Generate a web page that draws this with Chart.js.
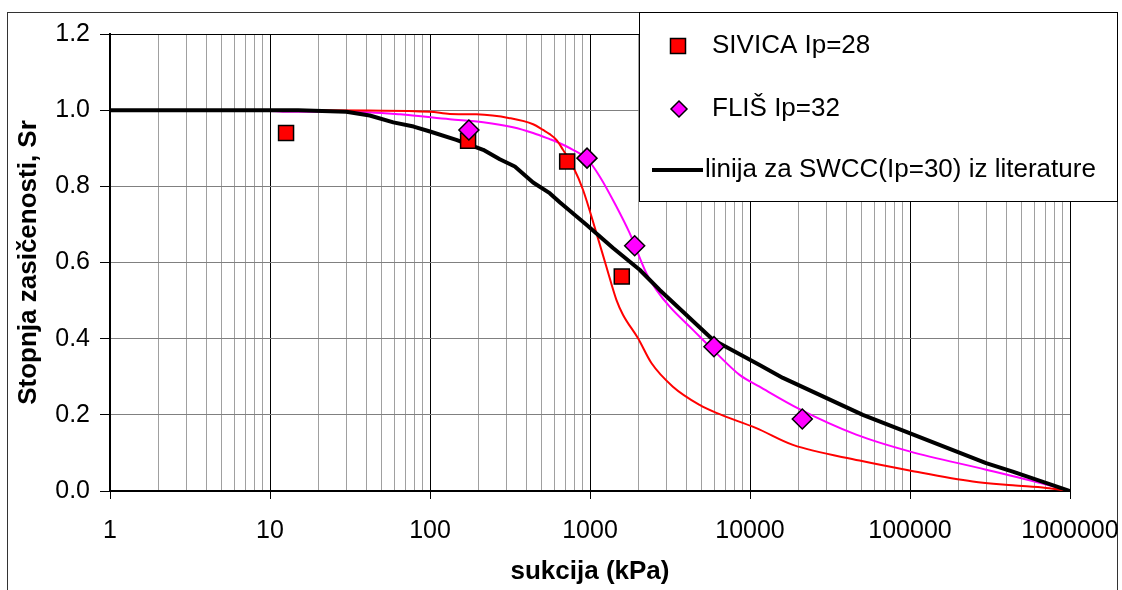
<!DOCTYPE html>
<html><head><meta charset="utf-8">
<script src="https://cdn.jsdelivr.net/npm/chart.js@4"></script>
<style>html,body{margin:0;padding:0;background:#fff;}#wrap{width:1122px;height:590px;position:relative;}</style>
</head><body><div id="wrap"><canvas id="c" width="1122" height="590"></canvas></div>
<script>
// ---- tick labels ----
const xTickLabels = ['1','10','100','1000','10000','100000','1000000'];
const yTickLabels = ['0.0','0.2','0.4','0.6','0.8','1.0','1.2'];

// ---- measured points ----
const sivicaLabel = 'SIVICA Ip=28';
const sivicaX = [12.6, 173, 720, 1580];
const sivicaY = [0.94, 0.92, 0.865, 0.563];

const flisLabel = 'FLIŠ Ip=32';
const flisX = [175, 958, 1902, 5953, 21220];
const flisY = [0.948, 0.874, 0.644, 0.379, 0.189];

// ---- literature SWCC line ----
const litLabel = 'linija za SWCC(Ip=30) iz literature';
const litX = [1, 15, 30, 42, 59, 79, 100, 146, 215, 273, 339, 441, 560, 647, 950, 1393, 2043, 2725, 5865, 11480, 16060, 50700, 99300, 299000, 438700, 1000000];
const litY = [1.0, 1.0, 0.996, 0.986, 0.968, 0.957, 0.944, 0.922, 0.896, 0.871, 0.852, 0.81, 0.782, 0.758, 0.699, 0.638, 0.581, 0.528, 0.397, 0.331, 0.297, 0.200, 0.152, 0.073, 0.051, 0.0];

// ---- fitted curves ----
const sivicaFitX = [1, 20, 100, 133, 195, 315, 441, 509, 560, 617, 678, 783, 904, 1097, 1266, 1462, 1607, 1996, 2420, 3297, 4843, 6160, 10950, 18540, 48390, 99300, 246700, 438700, 709000, 1000000];
const sivicaFitY = [1.0, 1.0, 0.996, 0.990, 0.989, 0.979, 0.963, 0.948, 0.937, 0.922, 0.896, 0.852, 0.791, 0.677, 0.589, 0.502, 0.463, 0.401, 0.336, 0.274, 0.226, 0.205, 0.165, 0.121, 0.080, 0.054, 0.025, 0.015, 0.008, 0.0];

const flisFitX = [1, 10, 12, 32, 65, 133, 215, 330, 441, 560, 617, 783, 950, 1150, 1462, 1770, 2250, 2600, 3148, 4400, 6160, 8610, 11480, 20400, 46100, 99300, 299000, 709000, 1000000];
const flisFitY = [0.998, 0.998, 0.996, 0.996, 0.989, 0.976, 0.968, 0.955, 0.940, 0.924, 0.917, 0.896, 0.874, 0.826, 0.747, 0.677, 0.572, 0.528, 0.484, 0.423, 0.362, 0.305, 0.274, 0.215, 0.148, 0.104, 0.056, 0.017, 0.0];

const pts = (xs, ys) => xs.map((x, i) => ({x: x, y: ys[i]}));
const FONT = '"Liberation Sans", Arial, sans-serif';

const framePlugin = {
  id: 'frame',
  beforeDraw(chart) {
    const ctx = chart.ctx;
    ctx.save();
    ctx.fillStyle = '#fff';
    ctx.fillRect(0, 0, chart.width, chart.height);
    ctx.strokeStyle = '#333';
    ctx.lineWidth = 1;
    ctx.strokeRect(7.5, 12.5, 1110, 640);
    ctx.restore();
  }
};

const legendPlugin = {
  id: 'boxLegend',
  afterDraw(chart) {
    const ctx = chart.ctx;
    ctx.save();
    ctx.fillStyle = '#fff';
    ctx.strokeStyle = '#000';
    ctx.lineWidth = 1;
    ctx.fillRect(639.5, 12.5, 478, 189);
    ctx.strokeRect(639.5, 12.5, 478, 189);
    const ds = chart.data.datasets;
    const items = [ds[1], ds[0], ds[2]];
    const rows = [46, 109, 170];
    items.forEach((d, i) => {
      const y = rows[i];
      if (d.showLine) {
        ctx.strokeStyle = d.borderColor;
        ctx.lineWidth = d.borderWidth;
        ctx.beginPath(); ctx.moveTo(652, y); ctx.lineTo(703, y); ctx.stroke();
      } else {
        ctx.fillStyle = d.pointBackgroundColor;
        ctx.strokeStyle = d.pointBorderColor;
        ctx.lineWidth = d.pointBorderWidth;
        ctx.beginPath();
        if (d.pointStyle === 'rect') {
          ctx.rect(678 - 7.5, y - 7.5, 15, 15);
        } else {
          ctx.moveTo(679, y - 8); ctx.lineTo(687, y); ctx.lineTo(679, y + 8); ctx.lineTo(671, y); ctx.closePath();
        }
        ctx.fill(); ctx.stroke();
      }
      ctx.fillStyle = '#000';
      ctx.font = '26px ' + FONT;
      ctx.textBaseline = 'middle';
      ctx.textAlign = 'left';
      ctx.fillText(d.label, d.showLine ? 705 : 712, y);
    });
    ctx.restore();
  }
};

new Chart(document.getElementById('c'), {
  type: 'scatter',
  data: {
    datasets: [
      { label: flisLabel, data: pts(flisX, flisY), showLine: false, pointStyle: 'rectRot', pointRadius: 10, pointHoverRadius: 10,
        pointBackgroundColor: '#ff00ff', pointBorderColor: '#000', pointBorderWidth: 1.5 },
      { label: sivicaLabel, data: pts(sivicaX, sivicaY), showLine: false, pointStyle: 'rect', pointRadius: 10.6, pointHoverRadius: 10.6,
        pointBackgroundColor: '#ff0000', pointBorderColor: '#000', pointBorderWidth: 1.5 },
      { label: litLabel, data: pts(litX, litY), showLine: true, borderColor: '#000', borderWidth: 4, pointRadius: 0,
        tension: 0, borderJoinStyle: 'round', borderCapStyle: 'butt' },
      { label: 'SIVICA fit', data: pts(sivicaFitX, sivicaFitY), showLine: true, borderColor: '#ff0000', borderWidth: 2, pointRadius: 0,
        cubicInterpolationMode: 'monotone' },
      { label: 'FLIŠ fit', data: pts(flisFitX, flisFitY), showLine: true, borderColor: '#ff00ff', borderWidth: 2, pointRadius: 0,
        cubicInterpolationMode: 'monotone' }
    ]
  },
  options: {
    responsive: false,
    animation: false,
    devicePixelRatio: 1,
    layout: { padding: { left: 0, top: 34, right: 52, bottom: 0 } },
    plugins: { legend: { display: false }, tooltip: { enabled: false } },
    scales: {
      x: {
        type: 'logarithmic',
        min: 1, max: 1000000,
        afterBuildTicks(scale) {
          const t = [];
          for (let e = 0; e < 6; e++) for (let m = 1; m < 10; m++) t.push({ value: m * Math.pow(10, e), major: m === 1 });
          t.push({ value: 1000000, major: true });
          scale.ticks = t;
        },
        afterFit(scale) { scale.height = 99; scale.paddingLeft = 0; scale.paddingRight = 0; },
        ticks: {
          autoSkip: false, maxRotation: 0, minRotation: 0, padding: 17, color: '#000',
          font: { family: FONT, size: 25 },
          callback(value, index, ticks) {
            const t = ticks[index];
            return t && t.major ? xTickLabels[Math.round(Math.log10(value))] : '';
          }
        },
        grid: {
          color: (c) => (c.tick && c.tick.major) ? '#000' : '#a0a0a0',
          lineWidth: 1,
          tickLength: 8,
          tickColor: (c) => (c.tick && c.tick.major) ? '#000' : 'rgba(0,0,0,0)'
        },
        border: { display: true, color: '#000', width: 2 },
        title: { display: true, text: 'sukcija (kPa)', color: '#000', font: { family: FONT, size: 26, weight: 'bold' }, padding: { top: 0, bottom: 3 } }
      },
      y: {
        min: 0, max: 1.2,
        afterBuildTicks(scale) { scale.ticks = yTickLabels.map(l => ({ value: parseFloat(l) })); },
        afterFit(scale) { scale.width = 110; scale.paddingTop = 0; scale.paddingBottom = 0; },
        ticks: {
          padding: 10, color: '#000', font: { family: FONT, size: 25 },
          callback(value, index) { return yTickLabels[index]; }
        },
        grid: {
          color: (c) => (c.tick && (c.tick.value === 1.2 || c.tick.value === 0)) ? '#000' : '#808080',
          lineWidth: 1,
          tickLength: 10,
          tickColor: '#000'
        },
        border: { display: true, color: '#000', width: 2 },
        title: { display: true, text: 'Stopnja zasičenosti, Sr', color: '#000', font: { family: FONT, size: 26, weight: 'bold' }, padding: { top: 13, bottom: 0 } }
      }
    }
  },
  plugins: [framePlugin, legendPlugin]
});
</script></body></html>
